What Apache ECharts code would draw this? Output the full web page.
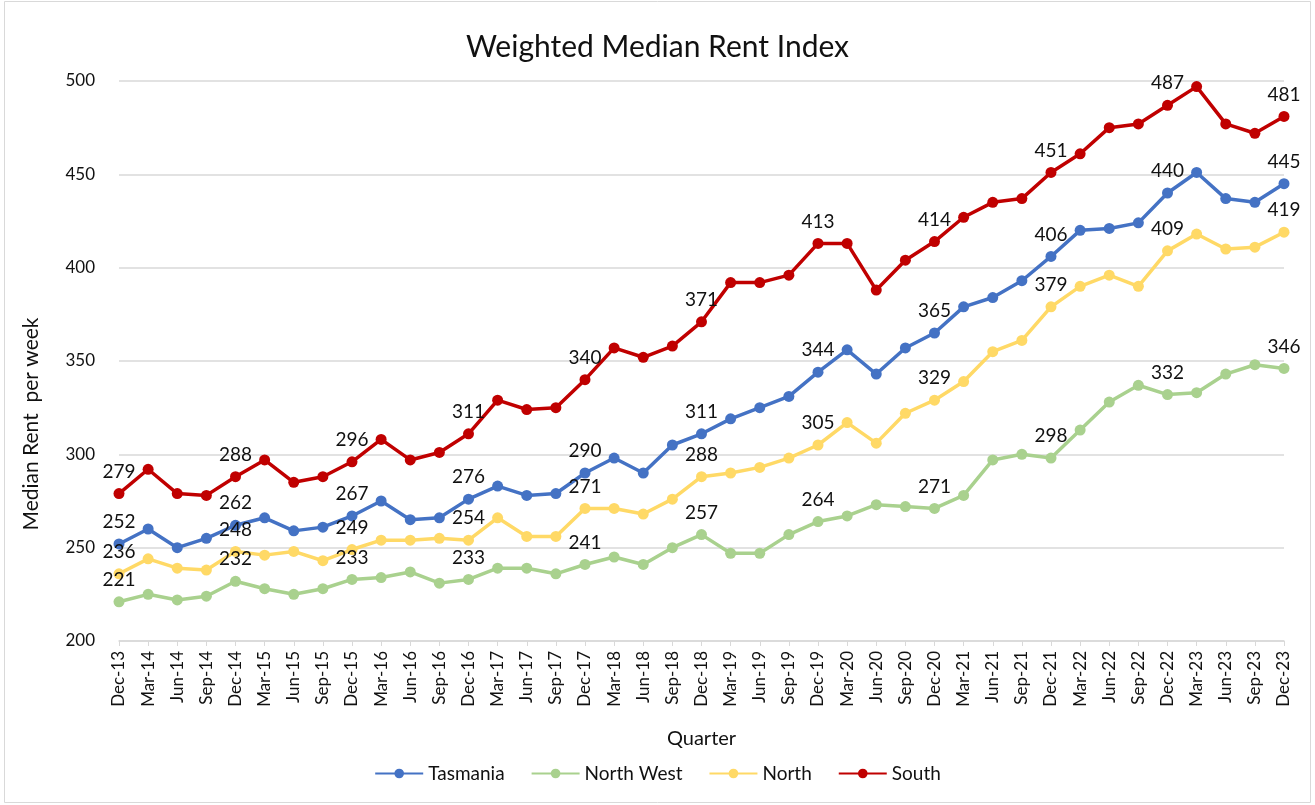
<!DOCTYPE html>
<html>
<head>
<meta charset="utf-8">
<script src="https://cdn.jsdelivr.net/npm/echarts@6/dist/echarts.min.js"></script>
<style>
  html, body { margin: 0; padding: 0; background: #fff; }
  #chart { width: 1315px; height: 805px; }
</style>
</head>
<body>
<div id="chart"></div>
<script>
const quarters = [
  'Dec-13', 'Mar-14', 'Jun-14', 'Sep-14', 'Dec-14', 'Mar-15', 'Jun-15', 'Sep-15',
  'Dec-15', 'Mar-16', 'Jun-16', 'Sep-16', 'Dec-16', 'Mar-17', 'Jun-17', 'Sep-17',
  'Dec-17', 'Mar-18', 'Jun-18', 'Sep-18', 'Dec-18', 'Mar-19', 'Jun-19', 'Sep-19',
  'Dec-19', 'Mar-20', 'Jun-20', 'Sep-20', 'Dec-20', 'Mar-21', 'Jun-21', 'Sep-21',
  'Dec-21', 'Mar-22', 'Jun-22', 'Sep-22', 'Dec-22', 'Mar-23', 'Jun-23', 'Sep-23',
  'Dec-23'
];

const tasmania = [252, 260, 250, 255, 262, 266, 259, 261, 267, 275, 265, 266, 276, 283, 278, 279,
  290, 298, 290, 305, 311, 319, 325, 331, 344, 356, 343, 357, 365, 379, 384, 393,
  406, 420, 421, 424, 440, 451, 437, 435, 445];

const northWest = [221, 225, 222, 224, 232, 228, 225, 228, 233, 234, 237, 231, 233, 239, 239, 236,
  241, 245, 241, 250, 257, 247, 247, 257, 264, 267, 273, 272, 271, 278, 297, 300,
  298, 313, 328, 337, 332, 333, 343, 348, 346];

const north = [236, 244, 239, 238, 248, 246, 248, 243, 249, 254, 254, 255, 254, 266, 256, 256,
  271, 271, 268, 276, 288, 290, 293, 298, 305, 317, 306, 322, 329, 339, 355, 361,
  379, 390, 396, 390, 409, 418, 410, 411, 419];

const south = [279, 292, 279, 278, 288, 297, 285, 288, 296, 308, 297, 301, 311, 329, 324, 325,
  340, 357, 352, 358, 371, 392, 392, 396, 413, 413, 388, 404, 414, 427, 435, 437,
  451, 461, 475, 477, 487, 497, 477, 472, 481];

const yTicks = { min: 200, max: 500, step: 50 };

const FONT = 'Lato';

function makeSeries(name, data, color) {
  return {
    name: name,
    type: 'line',
    data: data,
    symbol: 'circle',
    symbolSize: 11,
    lineStyle: { color: color, width: 3.5 },
    itemStyle: { color: color },
    label: {
      show: true,
      position: 'top',
      distance: 7,
      color: '#111',
      fontFamily: FONT,
      fontSize: 19,
      // only the December quarters carry a value label
      formatter: p => (p.dataIndex % 4 === 0 ? String(p.value) : '')
    },
    emphasis: { disabled: true },
    animation: false
  };
}

const chart = echarts.init(document.getElementById('chart'));

chart.setOption({
  backgroundColor: '#fff',
  textStyle: { fontFamily: FONT },
  title: {
    text: 'Weighted Median Rent Index',
    left: 'center',
    top: 27,
    textStyle: { fontFamily: FONT, fontSize: 30, fontWeight: 'normal', color: '#111' }
  },
  legend: {
    bottom: 17,
    left: 'center',
    itemWidth: 48,
    itemHeight: 12,
    itemGap: 26,
    textStyle: { fontFamily: FONT, fontSize: 19, color: '#111' },
    data: ['Tasmania', 'North West', 'North', 'South']
  },
  grid: { left: 119, right: 31, top: 81, bottom: 164 },
  xAxis: {
    type: 'category',
    data: quarters,
    boundaryGap: false,
    name: 'Quarter',
    nameLocation: 'middle',
    nameGap: 88,
    nameTextStyle: { fontFamily: FONT, fontSize: 20, color: '#111' },
    axisLine: { lineStyle: { color: '#d9d9d9', width: 1.5 } },
    axisTick: { show: true, length: 5, lineStyle: { color: '#d9d9d9' } },
    axisLabel: { rotate: 90, interval: 0, margin: 10, fontFamily: FONT, fontSize: 17, color: '#111' },
    splitLine: { show: false }
  },
  yAxis: {
    type: 'value',
    min: yTicks.min,
    max: yTicks.max,
    interval: yTicks.step,
    axisLine: { show: false },
    axisTick: { show: false },
    axisLabel: { margin: 24, fontFamily: FONT, fontSize: 17, color: '#111' },
    splitLine: { lineStyle: { color: '#d9d9d9', width: 1.5 } }
  },
  graphic: [
    {
      type: 'rect',
      shape: { x: 4.5, y: 1.5, width: 1306, height: 801 },
      style: { fill: 'none', stroke: '#d9d9d9', lineWidth: 1 },
      silent: true
    },
    {
      type: 'text',
      x: 31,
      y: 424,
      rotation: Math.PI / 2,
      style: {
        text: 'Median Rent  per week',
        font: '21px ' + FONT,
        fill: '#111',
        textAlign: 'center',
        textVerticalAlign: 'middle'
      },
      silent: true
    }
  ],
  series: [
    makeSeries('Tasmania', tasmania, '#4472C4'),
    makeSeries('North West', northWest, '#A9D18E'),
    makeSeries('North', north, '#FFD966'),
    makeSeries('South', south, '#C00000')
  ]
});
</script>
</body>
</html>
